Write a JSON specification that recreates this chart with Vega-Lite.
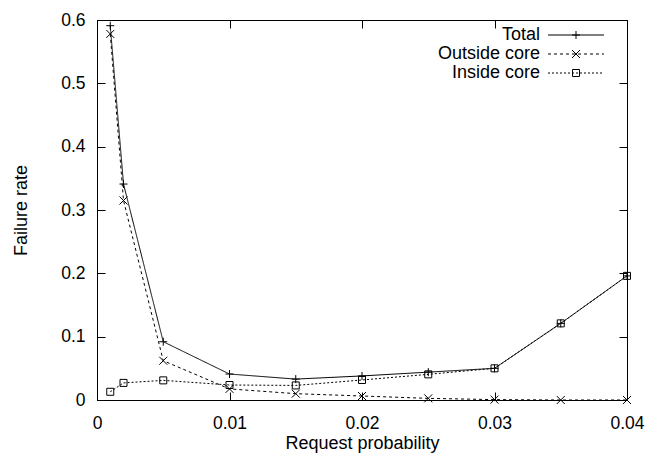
{
  "$schema": "https://vega.github.io/schema/vega-lite/v6.json",
  "width": 530,
  "height": 380,
  "autosize": {"type": "none"},
  "padding": {"left": 97, "top": 20, "right": 33, "bottom": 54},
  "background": "white",
  "config": {
    "font": "Liberation Sans",
    "view": {"stroke": "black", "strokeWidth": 1},
    "axis": {"labelColor": "black", "titleColor": "black", "domainColor": "black", "tickColor": "black", "labelFontSize": 17.5, "titleFontSize": 18, "titleFontWeight": "normal", "grid": false, "domainWidth": 1, "tickWidth": 1},
    "legend": {"labelColor": "black", "labelFontSize": 18}
  },
  "data": {"values": [
    {"p": 0.001, "series": "Total", "rate": 0.591},
    {"p": 0.002, "series": "Total", "rate": 0.341},
    {"p": 0.005, "series": "Total", "rate": 0.092},
    {"p": 0.01, "series": "Total", "rate": 0.041},
    {"p": 0.015, "series": "Total", "rate": 0.033},
    {"p": 0.02, "series": "Total", "rate": 0.038},
    {"p": 0.025, "series": "Total", "rate": 0.044},
    {"p": 0.03, "series": "Total", "rate": 0.05},
    {"p": 0.035, "series": "Total", "rate": 0.121},
    {"p": 0.04, "series": "Total", "rate": 0.196},
    {"p": 0.001, "series": "Outside core", "rate": 0.578},
    {"p": 0.002, "series": "Outside core", "rate": 0.315},
    {"p": 0.005, "series": "Outside core", "rate": 0.062},
    {"p": 0.01, "series": "Outside core", "rate": 0.0175},
    {"p": 0.015, "series": "Outside core", "rate": 0.01},
    {"p": 0.02, "series": "Outside core", "rate": 0.0063},
    {"p": 0.025, "series": "Outside core", "rate": 0.0026},
    {"p": 0.03, "series": "Outside core", "rate": 0.0006},
    {"p": 0.035, "series": "Outside core", "rate": 0},
    {"p": 0.04, "series": "Outside core", "rate": 0},
    {"p": 0.001, "series": "Inside core", "rate": 0.013},
    {"p": 0.002, "series": "Inside core", "rate": 0.027},
    {"p": 0.005, "series": "Inside core", "rate": 0.031},
    {"p": 0.01, "series": "Inside core", "rate": 0.0237},
    {"p": 0.015, "series": "Inside core", "rate": 0.023},
    {"p": 0.02, "series": "Inside core", "rate": 0.0316},
    {"p": 0.025, "series": "Inside core", "rate": 0.0405},
    {"p": 0.03, "series": "Inside core", "rate": 0.05},
    {"p": 0.035, "series": "Inside core", "rate": 0.121},
    {"p": 0.04, "series": "Inside core", "rate": 0.196}
  ]},
  "resolve": {"axis": {"x": "independent", "y": "independent"}},
  "layer": [
    {
      "mark": {"type": "line", "stroke": "black", "strokeWidth": 1},
      "encoding": {
        "x": {"field": "p", "type": "quantitative", "scale": {"domain": [0, 0.04], "nice": false},
          "axis": {"orient": "bottom", "values": [0, 0.01, 0.02, 0.03, 0.04], "format": "~g", "tickSize": -8, "labelPadding": 22, "title": "Request probability", "titlePadding": 3, "labelFlush": false}},
        "y": {"field": "rate", "type": "quantitative", "scale": {"domain": [0, 0.6], "nice": false},
          "axis": {"orient": "left", "values": [0, 0.1, 0.2, 0.3, 0.4, 0.5, 0.6], "format": "~g", "tickSize": -8, "labelPadding": 20, "title": "Failure rate", "titlePadding": 30, "labelFlush": false}},
        "strokeDash": {"field": "series", "type": "nominal", "sort": ["Total", "Outside core", "Inside core"],
          "scale": {"range": [[1, 0], [3, 3], [2, 2]]},
          "legend": {
            "title": null, "orient": "none", "legendX": 470, "legendY": 6,
            "symbolType": "M-28,0H28", "symbolSize": 4, "symbolStrokeColor": "black", "symbolFillColor": "transparent", "symbolStrokeWidth": 1,
            "labelAlign": "right", "labelOffset": -45, "rowPadding": 1, "padding": 0
          }},
        "detail": {"field": "series"}
      }
    },
    {
      "mark": {"type": "point", "filled": false, "stroke": "black", "strokeWidth": 1, "size": 64, "opacity": 1},
      "encoding": {
        "x": {"field": "p", "type": "quantitative",
          "axis": {"orient": "top", "values": [0, 0.01, 0.02, 0.03, 0.04], "labels": false, "tickSize": -8, "title": null}},
        "y": {"field": "rate", "type": "quantitative",
          "axis": {"orient": "right", "values": [0, 0.1, 0.2, 0.3, 0.4, 0.5, 0.6], "labels": false, "tickSize": -8, "title": null}},
        "shape": {"field": "series", "type": "nominal",
          "scale": {"domain": ["Total", "Outside core", "Inside core"], "range": ["M-1,0H1M0,-1V1", "M-1,-1L1,1M-1,1L1,-1", "M-0.875,-0.875H0.875V0.875H-0.875Z"]},
          "legend": {
            "title": null, "orient": "none", "legendX": 470, "legendY": 6,
            "symbolSize": 64, "symbolStrokeColor": "black", "symbolFillColor": "white", "symbolStrokeWidth": 1,
            "labelOpacity": 0, "labelAlign": "right", "labelOffset": -45, "rowPadding": 1, "padding": 0
          }}
      }
    }
  ]
}
